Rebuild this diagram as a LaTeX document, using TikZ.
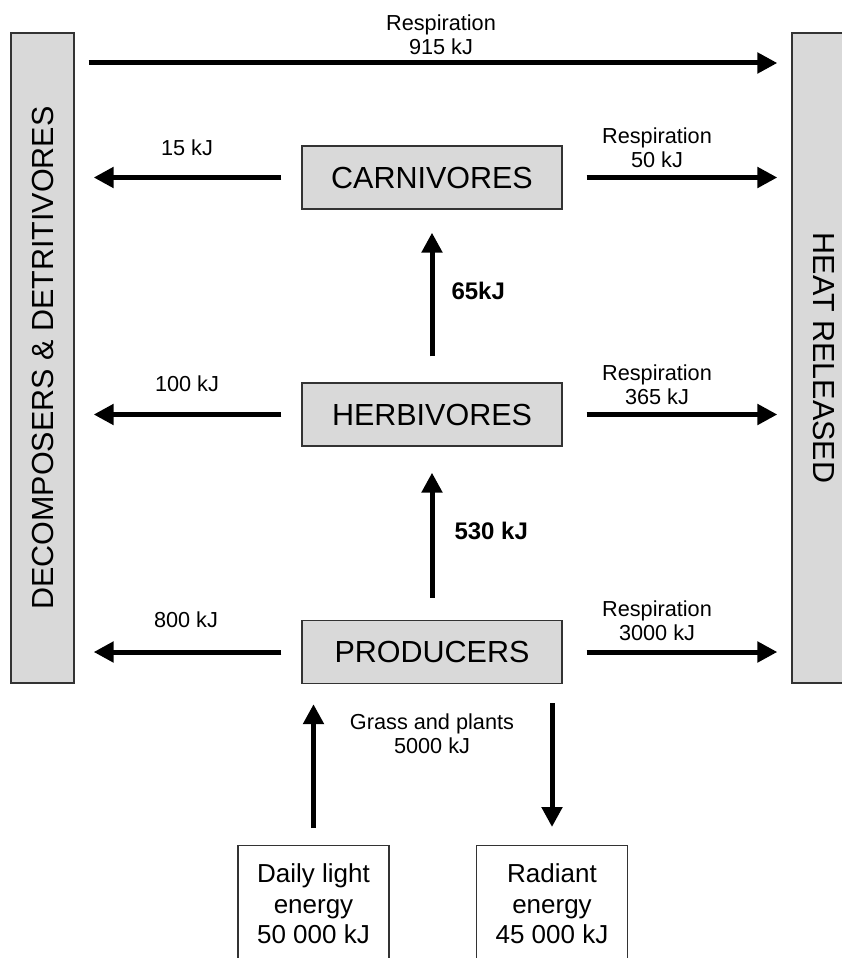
\documentclass[tikz,border=0pt]{standalone}
\usepackage{fontspec}
\setmainfont{Liberation Sans}
\usetikzlibrary{arrows.meta}

\tikzset{
  box/.style={draw=black!80, line width=1.3pt, fill=gray!30, inner sep=0pt},
  level/.style={box, minimum width=260pt, minimum height=63pt,
    font=\fontsize{30.5}{36}\selectfont},
  side/.style={box, minimum width=650pt, minimum height=63pt,
    font=\fontsize{30.5}{36}\selectfont},
  source/.style={draw=black!80, line width=1.3pt, fill=white, anchor=north,
    minimum width=151pt, inner ysep=18pt, align=center,
    font=\fontsize{26}{30.5}\selectfont},
  flow/.style={line width=5pt, -{Triangle[length=20pt,width=20pt]}},
  lbl/.style={align=center, font=\fontsize{21.7}{24}\selectfont},
  blbl/.style={anchor=west, font=\bfseries\fontsize{24}{28}\selectfont}
}

\begin{document}
\begin{tikzpicture}[x=1pt, y=-1pt]
  \useasboundingbox (0,0) rectangle (842,958);
  \clip (0,0) rectangle (842,958);

  % Side bars
  \node[side, rotate=90]  (decomp) at (42.5,358) {DECOMPOSERS \& DETRITIVORES};
  \node[side, rotate=-90] (heat)   at (823.5,358) {HEAT RELEASED};

  % Trophic levels
  \node[level] (carn) at (432,177.5) {CARNIVORES};
  \node[level] (herb) at (432,414.5) {HERBIVORES};
  \node[level] (prod) at (432,652)   {PRODUCERS};

  % Energy sources
  \node[source] (light)   at (313.5,845) {Daily light\\energy\\50 000 kJ};
  \node[source] (radiant) at (552,845)   {Radiant\\energy\\45 000 kJ};

  % Flows
  \coordinate (top) at (432,63);
  \draw[flow, shorten <=14pt, shorten >=14pt] (top -| decomp.south) -- (top -| heat.south);

  \foreach \lvl in {carn, herb, prod} {
    \draw[flow, shorten <=20pt, shorten >=19pt] (\lvl.west) -- (\lvl.west -| decomp.south);
    \draw[flow, shorten <=24pt, shorten >=14pt] (\lvl.east) -- (\lvl.east -| heat.south);
  }

  \draw[flow, shorten <=26pt, shorten >=23pt] (herb) -- (carn);
  \draw[flow, shorten <=22pt, shorten >=26pt] (prod) -- (herb);
  \draw[flow, shorten <=17pt, shorten >=20pt] (light.north) -- (light.north |- prod.south);
  \draw[flow, shorten <=19pt, shorten >=18pt] (radiant.north |- prod.south) -- (radiant.north);

  % Labels
  \node[lbl] (lbltop)  at (441,35)  {Respiration\\915 kJ};
  \node[lbl] (lblc)    at (187,148) {15 kJ};
  \node[lbl] (lblcr)   at (657,148) {Respiration\\50 kJ};
  \node[lbl] (lblh)    at (187,384) {100 kJ};
  \node[lbl] (lblhr)   at (657,385) {Respiration\\365 kJ};
  \node[lbl] (lblp)    at (186,620) {800 kJ};
  \node[lbl] (lblpr)   at (657,621) {Respiration\\3000 kJ};
  \node[lbl] (lblgr)   at (432,734) {Grass and plants\\5000 kJ};
  \node[blbl] (lblhc)  at (448,291) {65kJ};
  \node[blbl] (lblph)  at (451,531) {530 kJ};
\end{tikzpicture}
\end{document}
